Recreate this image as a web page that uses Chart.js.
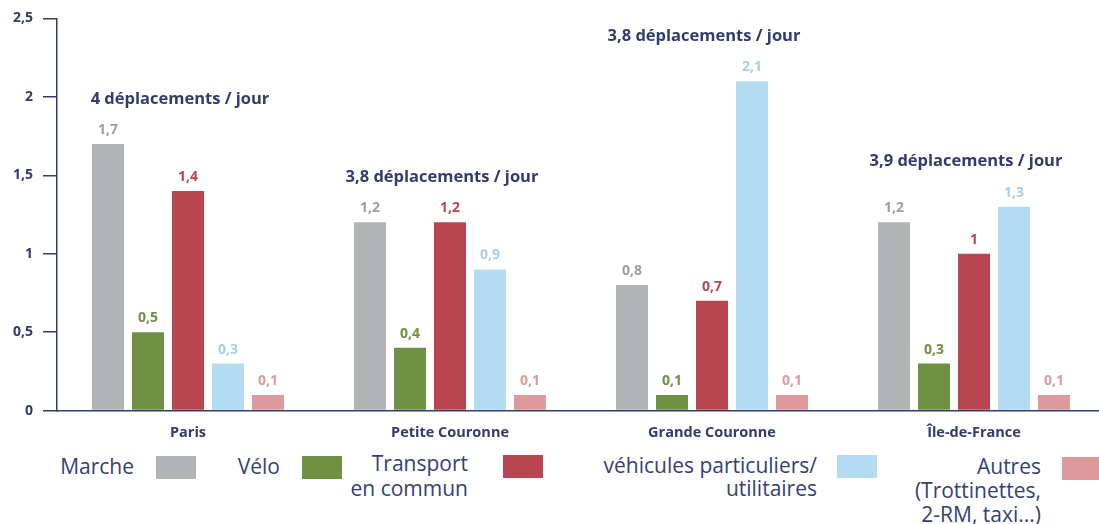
<!DOCTYPE html>
<html lang="fr">
<head>
<meta charset="utf-8">
<title>Déplacements par jour</title>
<script src="https://cdn.jsdelivr.net/npm/chart.js@4.4.1/dist/chart.umd.min.js"></script>
<style>
    html, body { margin: 0; padding: 0; background: #fff; }
    #wrap { position: relative; width: 1099px; height: 524px; overflow: hidden; }
    #chart-box { position: absolute; left: 0; top: 0; width: 1105px; height: 448px; }
    .legend-text {
        position: absolute;
        font-family: 'Open Sans', sans-serif;
        font-size: 21px;
        line-height: 24px;
        color: #34416f;
        text-align: right;
        white-space: pre;
    }
    .legend-box { position: absolute; width: 40px; height: 23px; }
</style>
</head>
<body>
<div id="wrap">
    <div id="chart-box"><canvas id="mobility-chart"></canvas></div>
    <div id="legend"></div>
</div>
<script>
// Data
const categories = ['Paris', 'Petite Couronne', 'Grande Couronne', 'Île-de-France'];
const seriesNames = ['Marche', 'Vélo', 'Transport\nen commun', 'véhicules particuliers/\nutilitaires', 'Autres\n(Trottinettes,\n2-RM, taxi...)'];
const marche = [1.7, 1.2, 0.8, 1.2];
const velo = [0.5, 0.4, 0.1, 0.3];
const transport = [1.4, 1.2, 0.7, 1.0];
const vehicules = [0.3, 0.9, 2.1, 1.3];
const autres = [0.1, 0.1, 0.1, 0.1];
const totals = ['4 déplacements / jour', '3,8 déplacements / jour', '3,8 déplacements / jour', '3,9 déplacements / jour'];
const yTicks = [0, 0.5, 1, 1.5, 2, 2.5];

// Colours
const barColors = ['#b1b4b4', '#6e9143', '#b9464f', '#b3dcf3', '#dd9a9d'];
const labelColors = ['#9c9fa0', '#6e9143', '#b9464f', '#a6cfea', '#dd9a9d'];
const navy = '#2f3c6c';

const FONT = "'Open Sans', sans-serif";

function frNum(v) {
    return String(v).replace('.', ',');
}

// Value labels above bars + group totals
const labelsPlugin = {
    id: 'labels',
    afterDatasetsDraw(chart) {
        const ctx = chart.ctx;
        ctx.save();
        ctx.textAlign = 'center';
        ctx.textBaseline = 'middle';
        ctx.font = `bold 14px ${FONT}`;
        chart.data.datasets.forEach((ds, i) => {
            const meta = chart.getDatasetMeta(i);
            meta.data.forEach((bar, j) => {
                ctx.fillStyle = labelColors[i];
                ctx.fillText(frNum(ds.data[j]), bar.x, bar.y - 14);
            });
        });

        // Totals per group
        const yScale = chart.scales.y;
        const xScale = chart.scales.x;
        ctx.font = `bold 16.5px ${FONT}`;
        ctx.fillStyle = navy;
        categories.forEach((c, j) => {
            const maxVal = Math.max(...chart.data.datasets.map(ds => ds.data[j]));
            const y = yScale.getPixelForValue(maxVal) - 45;
            ctx.fillText(totals[j], xScale.getPixelForValue(j) - 8, y);
        });
        ctx.restore();
    }
};

const datasets = [marche, velo, transport, vehicules, autres].map((values, i) => ({
    label: seriesNames[i],
    data: values,
    backgroundColor: barColors[i],
    categoryPercentage: 0.763,
    barPercentage: 0.8
}));

const ctx = document.getElementById('mobility-chart').getContext('2d');
new Chart(ctx, {
    type: 'bar',
    data: { labels: categories, datasets: datasets },
    options: {
        responsive: true,
        maintainAspectRatio: false,
        animation: false,
        layout: { padding: { top: 14, right: 0, left: 0, bottom: 0 } },
        plugins: {
            legend: { display: false },
            tooltip: { enabled: false }
        },
        scales: {
            x: {
                grid: { display: false },
                border: { color: navy, width: 1.5 },
                ticks: {
                    color: navy,
                    font: { family: FONT, size: 14.5, weight: 'bold' },
                    padding: 6
                }
            },
            y: {
                min: 0,
                max: 2.5,
                afterBuildTicks(scale) {
                    scale.ticks = yTicks.map(v => ({ value: v }));
                },
                afterFit(scale) {
                    scale.width = 57;
                },
                grid: {
                    drawOnChartArea: false,
                    color: navy,
                    lineWidth: 1.5,
                    tickLength: 14
                },
                border: { color: navy, width: 1.5 },
                ticks: {
                    color: navy,
                    padding: 10,
                    font: { family: FONT, size: 14, weight: 'bold' },
                    callback: value => frNum(value)
                }
            }
        }
    },
    plugins: [labelsPlugin]
});

// HTML legend: text on the left, colour box on the right
const legendBoxX = [156, 302, 503, 837, 1062];
const legendBoxY = [456, 456, 455, 455, 457];
const legendTextRight = [134, 280, 468, 817, 1041];
const legendTextTop = [454, 454, 451, 454, 454];
const legendLineHeight = [24, 24, 25, 23, 24];
const legend = document.getElementById('legend');
seriesNames.forEach((name, i) => {
    const text = document.createElement('div');
    text.className = 'legend-text';
    text.textContent = name;
    text.style.right = (1099 - legendTextRight[i]) + 'px';
    text.style.top = legendTextTop[i] + 'px';
    text.style.lineHeight = legendLineHeight[i] + 'px';
    legend.appendChild(text);

    const box = document.createElement('div');
    box.className = 'legend-box';
    box.style.left = legendBoxX[i] + 'px';
    box.style.top = legendBoxY[i] + 'px';
    box.style.background = barColors[i];
    legend.appendChild(box);
});
</script>
</body>
</html>
